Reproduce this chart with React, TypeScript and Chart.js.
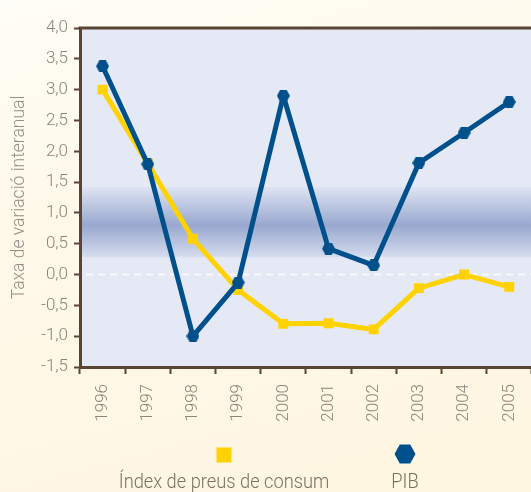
import React, { useEffect, useRef } from 'react';
import { Chart, registerables } from 'chart.js';

Chart.register(...registerables);

// ---- data ----
const years = ['1996', '1997', '1998', '1999', '2000', '2001', '2002', '2003', '2004', '2005'];
const cpiValues = [3.0, 1.8, 0.58, -0.25, -0.8, -0.79, -0.89, -0.22, 0.0, -0.2];
const gdpValues = [3.38, 1.79, -1.0, -0.13, 2.9, 0.42, 0.15, 1.81, 2.3, 2.8];
const seriesNames = ['Índex de preus de consum', 'PIB'];
const yAxisTitle = 'Taxa de variació interanual';
const yMin = -1.5;
const yMax = 4.0;
const yStep = 0.5;
const bandValues = [1.42, 0.8, 0.28]; // top, centre, bottom of the shaded band

// ---- styles ----
const BLUE = '#00508C';
const YELLOW = '#FFD200';
const BROWN = '#5A4434';
const TICK_GREY = '#8C847B';
const TEXT_BROWN = '#7D6E62';
const PLOT_BG = '#E4E9F5';
const FONT = "Roboto, 'Liberation Sans', sans-serif";

function hexPath(ctx: CanvasRenderingContext2D, cx: number, cy: number, w: number, h: number) {
  ctx.beginPath();
  ctx.moveTo(cx - w / 2, cy);
  ctx.lineTo(cx - w / 4, cy - h / 2);
  ctx.lineTo(cx + w / 4, cy - h / 2);
  ctx.lineTo(cx + w / 2, cy);
  ctx.lineTo(cx + w / 4, cy + h / 2);
  ctx.lineTo(cx - w / 4, cy + h / 2);
  ctx.closePath();
}

function makeHexImage(w: number, h: number, color: string) {
  const c = document.createElement('canvas');
  c.width = w;
  c.height = h;
  const ctx = c.getContext('2d')!;
  ctx.fillStyle = color;
  hexPath(ctx, w / 2, h / 2, w, h);
  ctx.fill();
  return c;
}

function condensedText(ctx: CanvasRenderingContext2D, text: string, x: number, y: number, factor: number) {
  ctx.save();
  ctx.translate(x, y);
  ctx.scale(factor, 1);
  ctx.fillText(text, 0, 0);
  ctx.restore();
}

const plotBackground = {
  id: 'plotBackground',
  beforeDraw(chart: any) {
    const { ctx, chartArea } = chart;
    const y = chart.scales.y;
    ctx.save();
    ctx.fillStyle = PLOT_BG;
    ctx.fillRect(chartArea.left, chartArea.top, chartArea.right - chartArea.left, chartArea.bottom - chartArea.top);
    const yTop = y.getPixelForValue(bandValues[0]);
    const yMid = y.getPixelForValue(bandValues[1]);
    const yBot = y.getPixelForValue(bandValues[2]);
    const g = ctx.createLinearGradient(0, yTop, 0, yBot);
    const midStop = (yMid - yTop) / (yBot - yTop);
    g.addColorStop(0, 'rgba(152,168,207,0.08)');
    g.addColorStop(midStop, 'rgba(152,168,207,1)');
    g.addColorStop(0.97, 'rgba(152,168,207,0.25)');
    g.addColorStop(1, 'rgba(152,168,207,0.15)');
    ctx.fillStyle = g;
    ctx.fillRect(chartArea.left, yTop, chartArea.right - chartArea.left, yBot - yTop);
    ctx.restore();
  },
  beforeDatasetsDraw(chart: any) {
    const { ctx, chartArea } = chart;
    const y = chart.scales.y;
    ctx.save();
    const y0 = y.getPixelForValue(0);
    ctx.strokeStyle = '#FFFFFF';
    ctx.lineWidth = 1.5;
    ctx.setLineDash([7, 5]);
    ctx.beginPath();
    ctx.moveTo(chartArea.left + 6, y0);
    ctx.lineTo(chartArea.right, y0);
    ctx.stroke();
    ctx.setLineDash([]);
    ctx.strokeStyle = BROWN;
    ctx.lineWidth = 3;
    ctx.beginPath();
    ctx.moveTo(chartArea.left - 1.5, chartArea.top);
    ctx.lineTo(chartArea.right + 10, chartArea.top);
    ctx.stroke();
    ctx.restore();
  },
};

const customLegend = {
  id: 'customLegend',
  afterDraw(chart: any) {
    const { ctx, chartArea } = chart;
    const markerY = chartArea.bottom + 88;
    const textY = chartArea.bottom + 121;
    const centers = [224, 405];
    ctx.save();
    ctx.font = `300 21px ${FONT}`;
    ctx.textAlign = 'center';
    ctx.textBaseline = 'alphabetic';
    chart.data.datasets.forEach((ds: any, i: number) => {
      const cx = centers[i];
      ctx.fillStyle = ds.borderColor;
      if (i === 0) {
        ctx.fillRect(cx - 7.5, markerY - 7.5, 15, 15);
      } else {
        hexPath(ctx, cx, markerY - 1, 21, 19);
        ctx.fill();
      }
      ctx.fillStyle = TEXT_BROWN;
      condensedText(ctx, ds.label, cx, textY, 0.87);
    });
    ctx.restore();
  },
};

export default function App() {
  const canvasRef = useRef<HTMLCanvasElement | null>(null);

  useEffect(() => {
    if (!canvasRef.current) return;
    const hex = makeHexImage(13, 12, BLUE);
    const chart = new Chart(canvasRef.current, {
      type: 'line',
      data: {
        labels: years,
        datasets: [
          {
            label: seriesNames[0],
            data: cpiValues,
            borderColor: YELLOW,
            backgroundColor: YELLOW,
            borderWidth: 5,
            borderJoinStyle: 'round',
            pointStyle: 'rect',
            pointRadius: 7,
            pointHoverRadius: 7,
            pointBorderWidth: 0,
            tension: 0,
            order: 1,
          },
          {
            label: seriesNames[1],
            data: gdpValues,
            borderColor: BLUE,
            backgroundColor: BLUE,
            borderWidth: 5,
            borderJoinStyle: 'round',
            pointStyle: hex as any,
            pointRadius: 6,
            pointHoverRadius: 6,
            pointBorderWidth: 0,
            tension: 0,
            order: 0,
          },
        ],
      },
      options: {
        responsive: false,
        animation: false,
        devicePixelRatio: 1,
        layout: { padding: { top: 28, right: 5, left: 0, bottom: 0 } },
        plugins: {
          legend: { display: false },
          tooltip: { enabled: false },
        },
        scales: {
          x: {
            type: 'category',
            offset: true,
            afterFit: (s: any) => {
              s.height = 125;
            },
            grid: {
              offset: true,
              drawOnChartArea: false,
              drawTicks: true,
              tickLength: 7,
              tickWidth: 2,
              tickColor: BROWN,
              color: BROWN,
            },
            border: { display: true, color: BROWN, width: 3 },
            ticks: {
              autoSkip: false,
              minRotation: 90,
              maxRotation: 90,
              padding: 10,
              color: TICK_GREY,
              font: { family: FONT, size: 17, weight: '300' },
            },
          },
          y: {
            min: yMin,
            max: yMax,
            afterFit: (s: any) => {
              s.width = 80;
            },
            grid: {
              drawOnChartArea: false,
              drawTicks: true,
              tickLength: 6,
              tickWidth: 2,
              tickColor: BROWN,
              color: BROWN,
            },
            border: { display: true, color: BROWN, width: 3 },
            ticks: {
              stepSize: yStep,
              padding: 6,
              color: TICK_GREY,
              font: { family: FONT, size: 17, weight: '300' },
              callback: (v: any) => Number(v).toFixed(1).replace('.', ','),
            },
            title: {
              display: true,
              text: yAxisTitle,
              color: '#958D86',
              font: { family: FONT, size: 17.5, weight: '300' },
              padding: { top: 9, bottom: 0 },
            },
          },
        },
      },
      plugins: [plotBackground, customLegend],
    });
    return () => chart.destroy();
  }, []);

  return (
    <div
      style={{
        position: 'absolute',
        left: 0,
        top: 0,
        width: 531,
        height: 492,
        overflow: 'hidden',
        background: 'linear-gradient(165deg, #FFFDF7 0%, #FFF9EA 35%, #FFF6E1 100%)',
      }}
    >
      <canvas ref={canvasRef} width={540} height={492} style={{ display: 'block', width: 540, height: 492 }} />
    </div>
  );
}
